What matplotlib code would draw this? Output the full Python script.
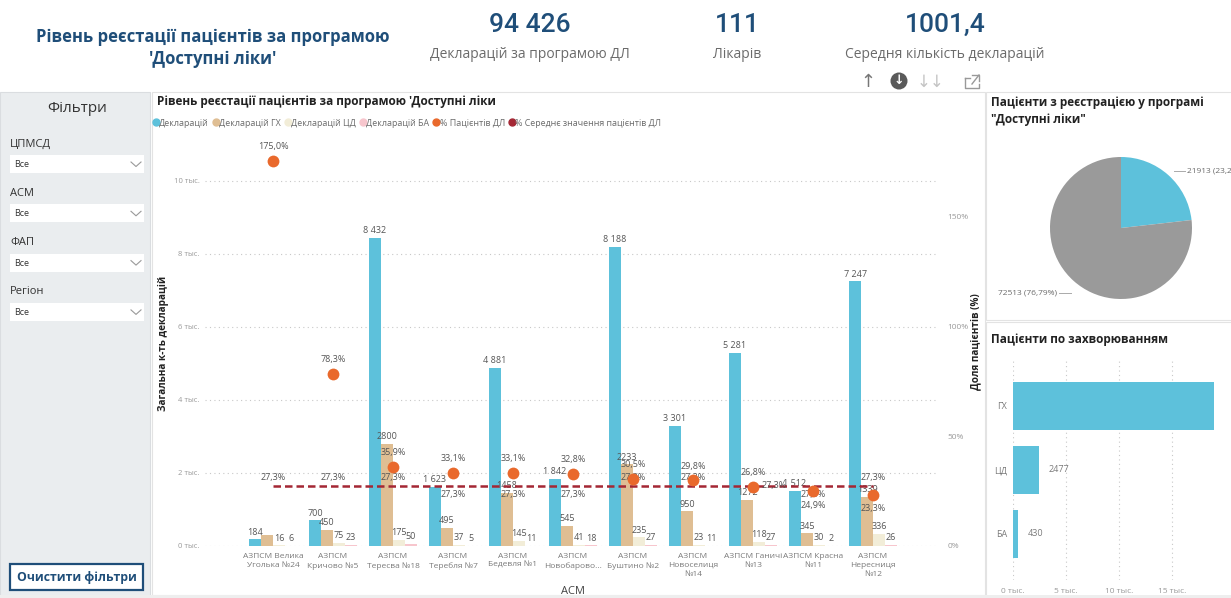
import numpy as np
import matplotlib
matplotlib.use('Agg')
import matplotlib.pyplot as plt
from matplotlib import patches
from matplotlib.lines import Line2D

plt.rcParams['font.family'] = ['Open Sans', 'DejaVu Sans']

W, H = 1231, 598

## data

clinics = ['АЗПСМ Велика\nУголька №24', 'АЗПСМ\nКричово №5', 'АЗПСМ\nТересва №18',
           'АЗПСМ\nТеребля №7', 'АЗПСМ\nБедевля №1', 'АЗПСМ\nНовобарово...',
           'АЗПСМ\nБуштино №2', 'АЗПСМ\nНовоселиця\n№14', 'АЗПСМ Ганичі\n№13',
           'АЗПСМ Красна\n№11', 'АЗПСМ\nНересниця\n№12']
decl_total = [184, 700, 8432, 1623, 4881, 1842, 8188, 3301, 5281, 1512, 7247]
decl_gh = [300, 450, 2800, 495, 1458, 545, 2233, 950, 1272, 345, 1339]
decl_cd = [16, 75, 175, 37, 145, 41, 235, 23, 118, 30, 336]
decl_ba = [6, 23, 50, 5, 11, 18, 27, 11, 27, 2, 26]
pct_patients = [175.0, 78.3, 35.9, 33.1, 33.1, 32.8, 30.5, 29.8, 26.8, 24.9, 23.3]
pct_mean = 27.3

series_names = ['Декларацій', 'Декларацій ГХ', 'Декларацій ЦД', 'Декларацій БА',
                '% Пацієнтів ДЛ', '% Середнє значення пацієнтів ДЛ']

kpi_values = ['94 426', '111', '1001,4']
kpi_labels = ['Декларацій за програмою ДЛ', 'Лікарів', 'Середня кількість декларацій']

pie_values = [21913, 72513]

disease_names = ['ГХ', 'ЦД', 'БА']
disease_values = [19006, 2477, 430]

filter_names = ['ЦПМСД', 'АСМ', 'ФАП', 'Регіон']

## styles

C_BLUE = '#5DC1DB'
C_TAN = '#DFBE93'
C_CREAM = '#F2EDD8'
C_PINK = '#F7C6CD'
C_ORANGE = '#E9692C'
C_RED = '#A42734'
C_PIEGREY = '#9A9A9A'
NAVY = '#1F4E79'
TXT = '#555555'
TICK = '#7A7A7A'

# where the "27,3%" mean labels sit for each group
mean_pos = ['above', 'above', 'above', 'below', 'below', 'below',
            'above', 'above', 'right', 'below', 'above']
# orange labels below the dot
pct_below = [9, 10]


def fig_box(x0, y0, x1, y1):
	"""pixel box (top-left origin) -> figure rect"""
	return [x0 / W, 1 - y1 / H, (x1 - x0) / W, (y1 - y0) / H]


def fmt_pct(v):
	return ('%.1f%%' % v).replace('.', ',')


fig = plt.figure(figsize=(W / 100, H / 100), dpi=100)
fig.patch.set_facecolor('white')

## background / dashboard furniture (pixel coordinates)
bg = fig.add_axes([0, 0, 1, 1])
bg.set_xlim(0, W)
bg.set_ylim(H, 0)
bg.axis('off')

bg.add_patch(patches.Rectangle((0, 92), 150, 506, facecolor='#EAEDEF', edgecolor='#DADDE0', lw=0.8))
bg.add_patch(patches.Rectangle((152, 92), 833, 503, facecolor='white', edgecolor='#E3E3E3', lw=0.8))
bg.add_patch(patches.Rectangle((986, 92), 250, 228, facecolor='white', edgecolor='#E3E3E3', lw=0.8))
bg.add_patch(patches.Rectangle((986, 322), 250, 280, facecolor='white', edgecolor='#E3E3E3', lw=0.8))
bg.add_patch(patches.Rectangle((0, 595), W, 5, facecolor='#EEEEEE', edgecolor='none'))

bg.text(213, 48, "Рівень реєстації пацієнтів за програмою\n'Доступні ліки'", ha='center', va='center',
        fontsize=12, fontweight='bold', color=NAVY, linespacing=1.35)

for cx, val, lab in zip([530, 737, 945], kpi_values, kpi_labels):
	bg.text(cx, 25, val, ha='center', va='center', fontsize=19, color=NAVY, fontweight='medium',
	        family=['Roboto', 'DejaVu Sans'])
	bg.text(cx, 55, lab, ha='center', va='center', fontsize=10, color='#6B6B6B')

# visual header icons
bg.text(868, 82, '↑', ha='center', va='center', fontsize=13, color='#777777', family='DejaVu Sans')
bg.add_patch(patches.Circle((899, 81), 8.5, facecolor='#5A5A5A', edgecolor='none'))
bg.text(899, 81, '↓', ha='center', va='center', fontsize=9, color='white', fontweight='bold', family='DejaVu Sans')
bg.text(931, 82, '↓↓', ha='center', va='center', fontsize=12, color='#C4C4C4', family='DejaVu Sans')
bg.plot([965, 965, 979, 979], [78, 88, 88, 84], color='#999999', lw=1)
bg.plot([965, 970], [78, 78], color='#999999', lw=1)
bg.plot([972, 979, 979], [75, 75, 81], color='#999999', lw=1)
bg.plot([972, 979], [84, 75], color='#999999', lw=1)

# filter panel
bg.text(77, 108, 'Фільтри', ha='center', va='center', fontsize=11, color='#333333')
for i, name in enumerate(filter_names):
	y0 = 144 + i * 49.3
	bg.text(10, y0, name, ha='left', va='center', fontsize=8, color='#333333')
	bg.add_patch(patches.Rectangle((10, y0 + 11), 134, 18, facecolor='white', edgecolor='none'))
	bg.text(14, y0 + 20.5, 'Все', ha='left', va='center', fontsize=6.5, color='#333333')
	bg.plot([131, 136, 141], [y0 + 18, y0 + 22.5, y0 + 18], color='#999999', lw=0.8)

bg.add_patch(patches.Rectangle((10, 564), 133, 26, facecolor='white', edgecolor=NAVY, lw=1.6))
bg.text(76.5, 577.5, 'Очистити фільтри', ha='center', va='center', fontsize=8.8, fontweight='bold', color=NAVY)

# chart titles
bg.text(157, 101, "Рівень реєстації пацієнтів за програмою 'Доступні ліки", ha='left', va='center',
        fontsize=8.5, fontweight='bold', color='#222222')
bg.text(991, 111, 'Пацієнти з реєстрацією у програмі\n"Доступні ліки"', ha='left', va='center',
        fontsize=8.5, fontweight='bold', color='#222222', linespacing=1.4)
bg.text(991, 339, 'Пацієнти по захворюванням', ha='left', va='center',
        fontsize=8.5, fontweight='bold', color='#222222')

## main combo chart
n = len(clinics)
x = np.arange(n)
ax = fig.add_axes(fig_box(205, 130, 938, 546))
ax.set_facecolor('none')
bw = 0.2
series = [decl_total, decl_gh, decl_cd, decl_ba]
colors = [C_BLUE, C_TAN, C_CREAM, C_PINK]
offsets = [-0.3, -0.1, 0.1, 0.3]
for s, (vals, col, off) in enumerate(zip(series, colors, offsets)):
	ax.bar(x + off, vals, bw, color=col, zorder=2)
	for i, v in enumerate(vals):
		if s == 1 and i == 0:
			continue  # label hidden in the original (overlap)
		lab = ('{:,}'.format(v)).replace(',', ' ') if s == 0 else str(v)
		ax.annotate(lab, (x[i] + off, v), xytext=(0, 2), textcoords='offset points',
		            ha='center', va='bottom', fontsize=6.5, color=TXT, zorder=3)

ax.set_xlim(-1.133, n - 1 + 1.083)
ax.set_ylim(0, 11397)
ax.set_yticks(np.arange(0, 10001, 2000))
ax.set_yticklabels(['%d тыс.' % (t // 1000) for t in range(0, 10001, 2000)], fontsize=5.5, color='#9A9A9A')
ax.set_xticks(x)
ax.set_xticklabels(clinics, fontsize=6, color=TICK, linespacing=1.4)
ax.tick_params(length=0, pad=5)
ax.tick_params(axis='y', pad=4)
ax.yaxis.grid(True, linestyle=(0, (1, 3)), color='#C8C8C8', lw=0.8, zorder=0)
for sp in ax.spines.values():
	sp.set_visible(False)

ax2 = ax.twinx()
ax2.set_ylim(0, 189.1)
ax2.set_yticks([0, 50, 100, 150])
ax2.set_yticklabels(['0%', '50%', '100%', '150%'], fontsize=6, color='#9A9A9A')
ax2.tick_params(length=0, pad=7)
for sp in ax2.spines.values():
	sp.set_visible(False)

ax2.hlines(pct_mean, x[0], x[-1], colors=C_RED, linestyles=(0, (3, 1.6)), lw=1.8, zorder=3)
for i in range(n):
	if mean_pos[i] == 'above':
		xy, ha, va = (0, 3), 'center', 'bottom'
	elif mean_pos[i] == 'below':
		xy, ha, va = (0, -3), 'center', 'top'
	else:
		xy, ha, va = (6, 0), 'left', 'center'
	ax2.annotate(fmt_pct(pct_mean), (x[i], pct_mean), xytext=xy, textcoords='offset points',
	             ha=ha, va=va, fontsize=6.5, color=TXT, zorder=4)

ax2.plot(x, pct_patients, 'o', ms=8.5, color=C_ORANGE, mew=0, zorder=5)
for i, v in enumerate(pct_patients):
	if i in pct_below:
		xy, va = (0, -7), 'top'
	else:
		xy, va = (0, 7), 'bottom'
	ax2.annotate(fmt_pct(v), (x[i], v), xytext=xy, textcoords='offset points',
	             ha='center', va=va, fontsize=6.5, color=TXT, zorder=6)

fig.text(163 / W, 1 - 343 / H, 'Загальна к-ть декларацій', rotation=90, ha='center', va='center',
         fontsize=7.2, fontweight='bold', color='#222222')
fig.text(976 / W, 1 - 342 / H, 'Доля пацієнтів (%)', rotation=90, ha='center', va='center',
         fontsize=7.2, fontweight='bold', color='#222222')
fig.text(573 / W, 1 - 591 / H, 'АСМ', ha='center', va='center', fontsize=8, color='#444444')

handles = [Line2D([], [], marker='o', ls='none', ms=5, color=c) for c in colors + [C_ORANGE, C_RED]]
fig.legend(handles, series_names, loc='center left', bbox_to_anchor=(153 / W, 1 - 123 / H), ncol=6,
           frameon=False, fontsize=6.4, handlelength=0.6, handletextpad=0.1, columnspacing=0.45,
           borderaxespad=0, borderpad=0, labelcolor='#6B6B6B')

## pie
axp = fig.add_axes(fig_box(1050, 157, 1192, 299))
axp.pie(pie_values, colors=[C_BLUE, C_PIEGREY], startangle=90, counterclock=False,
        wedgeprops=dict(linewidth=0), radius=1)
axp.set_xlim(-1, 1)
axp.set_ylim(-1, 1)
axp.set_aspect('equal')
tot = float(sum(pie_values))
pie_txt = ['%d (%s)' % (v, ('%.2f%%' % (100 * v / tot)).replace('.', ',')) for v in pie_values]
axp.plot([0.74, 0.9], [0.8, 0.8], color='#AAAAAA', lw=0.7, clip_on=False)
axp.text(0.93, 0.8, pie_txt[0], ha='left', va='center', fontsize=6, color='#6B6B6B')
axp.plot([-0.88, -0.7], [-0.92, -0.92], color='#AAAAAA', lw=0.7, clip_on=False)
axp.text(-0.9, -0.92, pie_txt[1], ha='right', va='center', fontsize=6, color='#6B6B6B')

## diseases bar
axb = fig.add_axes(fig_box(1013, 358, 1215, 580))
axb.set_facecolor('none')
yb = np.arange(len(disease_names))
axb.barh(yb, disease_values, 0.75, color=C_BLUE, zorder=2)
xmax = 19057
for yy, v in zip(yb, disease_values):
	if v < xmax * 0.9:
		axb.annotate(str(v), (v, yy), xytext=(7, 0), textcoords='offset points',
		             ha='left', va='center', fontsize=6.5, color=TICK)
axb.set_xlim(0, xmax)
axb.set_ylim(2.72, -0.75)
axb.set_yticks(yb)
axb.set_yticklabels(disease_names, fontsize=6.5, color=TICK)
axb.set_xticks([0, 5000, 10000, 15000])
axb.set_xticklabels(['0 тыс.', '5 тыс.', '10 тыс.', '15 тыс.'], fontsize=6, color='#9A9A9A')
axb.tick_params(length=0, pad=4)
axb.tick_params(axis='x', pad=6)
axb.xaxis.grid(True, linestyle=(0, (1, 3)), color='#C8C8C8', lw=0.8, zorder=0)
for sp in axb.spines.values():
	sp.set_visible(False)

fig.savefig('out.png', dpi=100)
